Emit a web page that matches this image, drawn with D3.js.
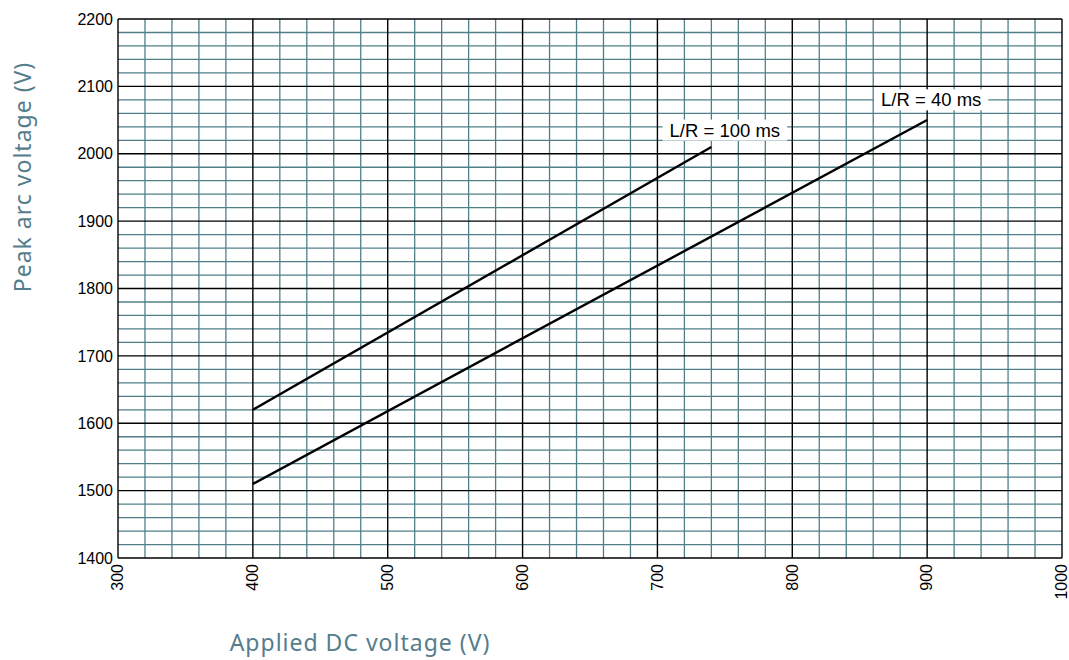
<!DOCTYPE html>
<html>
<head>
<meta charset="utf-8">
<script src="https://cdn.jsdelivr.net/npm/d3@7"></script>
<style>
  body { margin: 0; background: #fff; }
</style>
</head>
<body>
<div id="chart"></div>
<script>
// data
const xTicks = [300, 400, 500, 600, 700, 800, 900, 1000];
const yTicks = [1400, 1500, 1600, 1700, 1800, 1900, 2000, 2100, 2200];
const seriesNames = ["L/R = 100 ms", "L/R = 40 ms"];
const applied100 = [400, 740];
const peak100 = [1620, 2010];
const applied40 = [400, 900];
const peak40 = [1510, 2050];
const labelX = [750, 903];
const labelY = [2035, 2080];

const W = 1069, H = 660;
const margin = {top: 19, right: 7, bottom: 102, left: 118};
const width = W - margin.left - margin.right;
const height = H - margin.top - margin.bottom;
const tickFont = "'Liberation Sans', Arial, sans-serif";
const titleFont = "'Noto Sans', 'Open Sans', sans-serif";
const titleColor = "#557d8c";

const svg = d3.select("#chart").append("svg")
  .attr("width", W).attr("height", H);
const g = svg.append("g").attr("transform", `translate(${margin.left},${margin.top})`);

const x = d3.scaleLinear().domain([300, 1000]).range([0, width]);
const y = d3.scaleLinear().domain([1400, 2200]).range([height, 0]);

// minor grid every 20 V
const minorX = d3.range(300, 1001, 20).filter(v => v % 100 !== 0);
const minorY = d3.range(1400, 2201, 20).filter(v => v % 100 !== 0);
g.append("g").selectAll("line").data(minorX).join("line")
  .attr("x1", d => x(d)).attr("x2", d => x(d)).attr("y1", 0).attr("y2", height)
  .attr("stroke", "#4f8089").attr("stroke-width", 1.3);
g.append("g").selectAll("line").data(minorY).join("line")
  .attr("y1", d => y(d)).attr("y2", d => y(d)).attr("x1", 0).attr("x2", width)
  .attr("stroke", "#4f8089").attr("stroke-width", 1.3);

// major grid
g.append("g").selectAll("line").data(xTicks).join("line")
  .attr("x1", d => x(d)).attr("x2", d => x(d)).attr("y1", 0).attr("y2", height)
  .attr("stroke", "#000").attr("stroke-width", 1.4);
g.append("g").selectAll("line").data(yTicks).join("line")
  .attr("y1", d => y(d)).attr("y2", d => y(d)).attr("x1", 0).attr("x2", width)
  .attr("stroke", "#000").attr("stroke-width", 1.4);

// axes
const yAxis = g.append("g")
  .call(d3.axisLeft(y).tickValues(yTicks).tickFormat(d3.format("d")).tickSize(0).tickPadding(5));
yAxis.select(".domain").remove();
yAxis.selectAll("text").attr("font-family", tickFont).attr("font-size", 16).attr("fill", "#000");

const xAxis = g.append("g").attr("transform", `translate(0,${height})`)
  .call(d3.axisBottom(x).tickValues(xTicks).tickFormat(d3.format("d")).tickSize(0));
xAxis.select(".domain").remove();
xAxis.selectAll("text")
  .attr("font-family", tickFont).attr("font-size", 16).attr("fill", "#000")
  .attr("transform", "rotate(-90)")
  .attr("x", -6).attr("y", 0).attr("dy", "0.3em")
  .style("text-anchor", "end");

// lines
const line = d3.line().x(d => x(d[0])).y(d => y(d[1]));
const series = [d3.zip(applied100, peak100), d3.zip(applied40, peak40)];
g.append("g").selectAll("path").data(series).join("path")
  .attr("d", line).attr("fill", "none").attr("stroke", "#000").attr("stroke-width", 2.4);

// labels with white boxes
seriesNames.forEach((name, i) => {
  const t = g.append("text")
    .attr("font-family", tickFont).attr("font-size", 18.5).attr("fill", "#000")
    .attr("x", x(labelX[i])).attr("y", y(labelY[i]))
    .attr("text-anchor", "middle").attr("dy", "0.35em").text(name);
  const b = t.node().getBBox();
  g.insert("rect", () => t.node())
    .attr("x", b.x - 7).attr("y", b.y).attr("width", b.width + 14).attr("height", b.height)
    .attr("fill", "#fff");
});

// axis titles
svg.append("text")
  .attr("font-family", titleFont).attr("font-size", 23).attr("fill", titleColor)
  .attr("letter-spacing", 1)
  .attr("x", 360).attr("y", 651).attr("text-anchor", "middle")
  .text("Applied DC voltage (V)");
svg.append("text")
  .attr("font-family", titleFont).attr("font-size", 23).attr("fill", titleColor)
  .attr("letter-spacing", 1)
  .attr("transform", "translate(31,177) rotate(-90)").attr("text-anchor", "middle")
  .text("Peak arc voltage (V)");
</script>
</body>
</html>
